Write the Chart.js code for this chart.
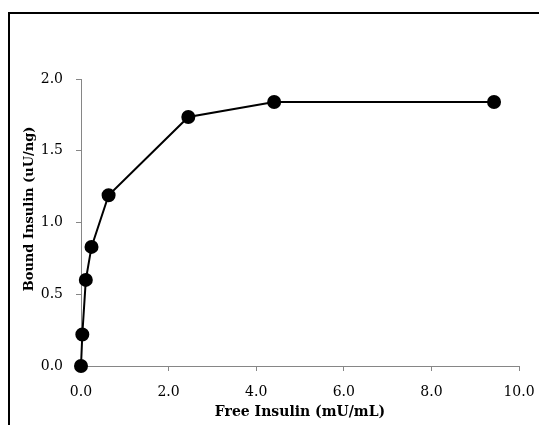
<!DOCTYPE html>
<html>
<head>
<meta charset="utf-8">
<script src="https://cdn.jsdelivr.net/npm/chart.js@4/dist/chart.umd.min.js"></script>
<style>
  html, body { margin: 0; padding: 0; background: #fff; overflow: hidden; }
  #wrap { position: relative; width: 539px; height: 425px; }
  #frame { position: absolute; left: 8px; top: 12px; width: 600px; height: 500px; border: 2px solid #000; box-sizing: border-box; }
  canvas { position: absolute; left: 0; top: 0; }
</style>
</head>
<body>
<div id="wrap">
  <div id="frame"></div>
  <canvas id="chart" width="539" height="425"></canvas>
</div>
<script>
// Values
const freeInsulin = [0, 0.03, 0.11, 0.24, 0.63, 2.45, 4.41, 9.43];
const boundInsulin = [0, 0.22, 0.60, 0.83, 1.19, 1.735, 1.84, 1.84];
const xTicks = [0, 2, 4, 6, 8, 10];
const yTicks = [0, 0.5, 1, 1.5, 2];
const xTitle = 'Free Insulin (mU/mL)';
const yTitle = '\u00a0\u00a0\u00a0\u00a0\u00a0\u00a0Bound Insulin (uU/ng)';

const fontFamily = '"DejaVu Serif", "Liberation Serif", serif';
const axisGray = '#868686';

const points = freeInsulin.map((x, i) => ({ x: x, y: boundInsulin[i] }));

// ticks only, no grid lines inside the plot
const axisGrid = {
    display: true,
    drawOnChartArea: false,
    drawTicks: true,
    tickLength: 5,
    tickWidth: 1,
    tickColor: axisGray
};

new Chart(document.getElementById('chart').getContext('2d'), {
    type: 'scatter',
    data: {
        datasets: [{
            data: points,
            showLine: true,
            borderColor: '#000',
            borderWidth: 2,
            backgroundColor: '#000',
            pointRadius: 6,
            pointHoverRadius: 6,
            clip: false
        }]
    },
    options: {
        responsive: false,
        animation: false,
        events: [],
        layout: { padding: { left: 0, right: 20, top: 79, bottom: 0 } },
        plugins: { legend: { display: false }, tooltip: { enabled: false } },
        scales: {
            x: {
                type: 'linear',
                min: 0, max: 10,
                afterBuildTicks: s => { s.ticks = xTicks.map(v => ({ value: v })); },
                afterFit: s => {
                    s.height = 425 - 366;
                    s.paddingLeft = 0;
                    s.paddingRight = 0;
                },
                grid: axisGrid,
                border: { color: axisGray, width: 1 },
                ticks: {
                    color: '#000',
                    padding: 13,
                    maxRotation: 0,
                    font: { family: fontFamily, size: 14 },
                    callback: v => v.toFixed(1)
                },
                title: {
                    display: true,
                    text: xTitle,
                    color: '#000',
                    font: { family: fontFamily, size: 14, weight: 'bold' },
                    padding: { top: 0, bottom: 4 }
                }
            },
            y: {
                type: 'linear',
                min: 0, max: 2,
                afterBuildTicks: s => { s.ticks = yTicks.map(v => ({ value: v })); },
                afterFit: s => {
                    s.width = 81;
                    s.paddingTop = 0;
                    s.paddingBottom = 0;
                },
                grid: axisGrid,
                border: { color: axisGray, width: 1 },
                ticks: {
                    color: '#000',
                    padding: 13,
                    font: { family: fontFamily, size: 14 },
                    callback: v => v.toFixed(1)
                },
                title: {
                    display: true,
                    text: yTitle,
                    color: '#000',
                    font: { family: fontFamily, size: 13, weight: 'bold' },
                    padding: { top: 22, bottom: 0 }
                }
            }
        }
    }
});
</script>
</body>
</html>
